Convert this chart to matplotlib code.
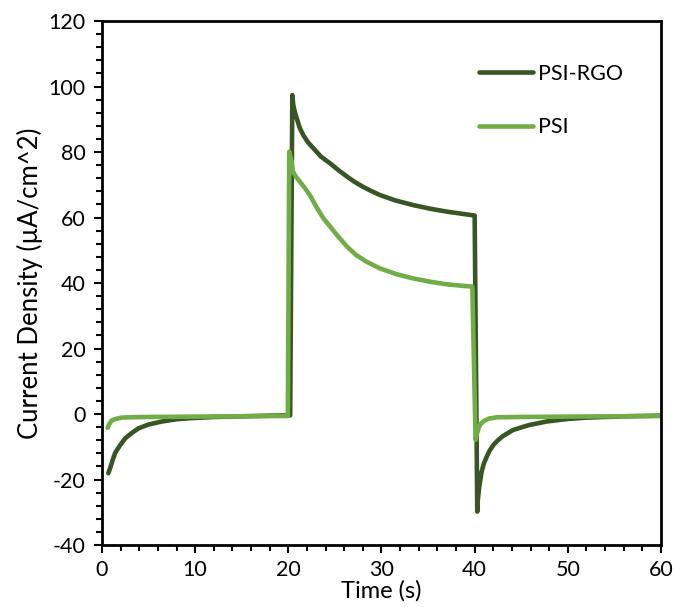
import matplotlib
matplotlib.use("Agg")
import matplotlib.pyplot as plt
from matplotlib.ticker import MultipleLocator

plt.rcParams['font.family'] = ['Lato', 'DejaVu Sans']
plt.rcParams['axes.unicode_minus'] = False

# PSI-RGO trace (time in s, current density in uA/cm^2)
rgo_time = [0.68, 0.9, 1.15, 1.4, 1.7, 2.0, 2.5, 3.2, 3.9, 5.0, 6.4, 8.0, 9.3, 12, 15, 18, 20.2,
            20.43, 20.53, 20.7, 20.9, 21.25, 21.6, 22.1, 22.7, 23.5, 24.5, 25.4, 26.3, 27.1, 28.0,
            28.9, 29.8, 31.5, 33.4, 35.2, 37.0, 38.5, 40.0,
            40.28, 40.35, 40.5, 40.75, 41.0, 41.3, 41.6, 42.0, 42.5, 43, 44.1, 45.8, 47.7, 50, 52, 56, 60]
rgo_current = [-18.1, -16.3, -14, -12, -10.6, -9.3, -7.4, -5.8, -4.4, -3.2, -2.3, -1.6, -1.3, -0.9, -0.7, -0.5, -0.4,
               97.4, 94.4, 92.2, 90.3, 87.2, 85.2, 83.0, 81.1, 78.6, 76.5, 74.4, 72.5, 70.9, 69.4,
               68.1, 66.9, 65.2, 63.8, 62.7, 61.8, 61.2, 60.6,
               -29.8, -26, -22, -17.6, -15, -13, -11.2, -9.5, -8.0, -6.8, -4.9, -3.4, -2.3, -1.5, -1.1, -0.7, -0.5]

# PSI trace
psi_time = [0.6, 0.8, 1.0, 1.25, 1.5, 2.1, 3, 5, 10, 15, 19.95,
            20.1, 20.36, 20.5, 20.8, 21.25, 21.8, 22.3, 23.0, 23.75, 24.5, 25.2, 26.3, 27.3, 28.4,
            29.8, 31.6, 33.4, 35.2, 37, 38.5, 39.75,
            40.1, 40.25, 40.4, 40.6, 40.9, 41.5, 42.4, 45, 50, 55, 60]
psi_current = [-4.2, -3.0, -2.1, -1.7, -1.5, -1.1, -1.0, -0.9, -0.8, -0.7, -0.6,
               80.1, 77, 74, 72.5, 70.9, 68.9, 66.9, 63.3, 59.8, 57.2, 54.7, 51.1, 48.5, 46.5,
               44.5, 42.7, 41.4, 40.4, 39.6, 39.2, 38.9,
               -7.9, -6.0, -4.5, -3.2, -2.3, -1.4, -1.0, -0.9, -0.8, -0.7, -0.6]

fig = plt.figure(figsize=(6.74, 6.07), dpi=100)
ax = fig.add_axes([0.1513, 0.1021, 0.8294, 0.8633])

ax.plot(rgo_time, rgo_current, color='#375623', lw=3.3, label='PSI-RGO',
        solid_capstyle='round', solid_joinstyle='round')
ax.plot(psi_time, psi_current, color='#70AD47', lw=3.3, label='PSI',
        solid_capstyle='round', solid_joinstyle='round')

ax.set_xlim(0, 60)
ax.set_ylim(-40, 120)
ax.xaxis.set_major_locator(MultipleLocator(10))
ax.xaxis.set_minor_locator(MultipleLocator(2))
ax.yaxis.set_major_locator(MultipleLocator(20))
ax.yaxis.set_minor_locator(MultipleLocator(4))
ax.tick_params(which='major', direction='out', length=6, width=1.5, labelsize=15.5)
ax.tick_params(axis='y', which='major', pad=6)
ax.tick_params(axis='x', which='major', pad=5)
ax.tick_params(which='minor', direction='out', length=4, width=1.5)
for s in ax.spines.values():
    s.set_linewidth(2)

ax.set_xlabel('Time (s)', fontsize=17, labelpad=0)
ax.set_ylabel('Current Density (\u00b5A/cm^2)', fontsize=18.5, labelpad=4)

ax.legend(loc='upper left', bbox_to_anchor=(0.64, 0.955), frameon=False, fontsize=15.5,
          handlelength=2.5, handletextpad=0.25, labelspacing=1.55)

fig.savefig('out.png', dpi=100)
